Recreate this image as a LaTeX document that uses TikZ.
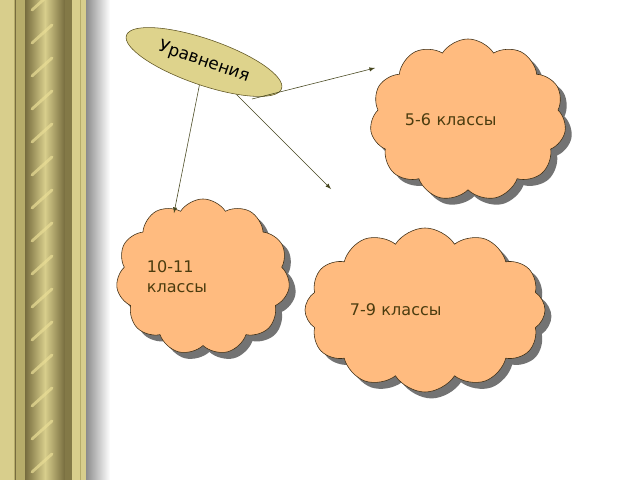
\documentclass[tikz,border=0pt]{standalone}
\usepackage{fontspec}
\setmainfont{DejaVu Sans}
\usetikzlibrary{shadows,arrows,shapes.symbols,shapes.geometric,calc}
\definecolor{oblfill}{RGB}{255,187,127}
\definecolor{obldraw}{RGB}{60,45,20}
\definecolor{ovalfill}{RGB}{222,211,140}
\definecolor{ovaldraw}{RGB}{95,85,35}
\definecolor{txtc}{RGB}{75,60,15}
\definecolor{linec}{RGB}{70,70,30}
\definecolor{goldL}{RGB}{216,206,140}
\definecolor{goldM}{RGB}{182,172,106}
\definecolor{goldD}{RGB}{118,108,62}
\definecolor{goldS}{RGB}{234,222,150}
\tikzstyle{oblako}=[cloud, cloud puffs=11, cloud puff arc=115, cloud ignores aspect,
  draw=obldraw, fill=oblfill, thin, text=txtc, align=left,
  font=\fontsize{11.4}{14}\selectfont,
  drop shadow={shadow xshift=0.16cm, shadow yshift=-0.16cm, fill=black!55, opacity=1}]
\tikzstyle{tema}=[ellipse, draw=ovaldraw, fill=ovalfill, thin, minimum width=4.1cm,
  minimum height=1.15cm, rotate=-19, font=\fontsize{12}{14}\selectfont]
\tikzstyle{strelka}=[-latex, draw=linec, thin]
\begin{document}
\begin{tikzpicture}[x=0.025cm, y=-0.025cm]
  \useasboundingbox (0,0) rectangle (640,480);
  \fill[white] (0,0) rectangle (640,480);
  % golden column on the left
  \fill[goldL] (0,0) rectangle (86,480);
  \fill[goldM] (14,0) rectangle (25,480);
  \draw[goldD, line width=0.6pt] (15,0) -- (15,480);
  \shade[left color=goldD, right color=goldD, middle color=goldL] (25,0) rectangle (65,480);
  \fill[goldD!80!goldM] (65,0) rectangle (72,480);
  \draw[goldM, line width=0.6pt] (80,0) -- (80,480);
  \foreach \y in {0,33,...,500}
    \draw[goldS, line width=2pt, line cap=round, opacity=0.7] (32,\y+10) -- (52,\y-8);
  \shade[left color=black!45, right color=white] (86,0) rectangle (110,480);

  % clouds
  \node (c56) [oblako, minimum width=4.9cm, minimum height=4.05cm, text width=3.15cm] at (468,120) {5-6 классы};
  \node (c1011) [oblako, minimum width=4.1cm, minimum height=3.9cm, text width=2.8cm] at (203,277) {10-11\\классы};
  \node (c79) [oblako, cloud puffs=12, minimum width=6cm, minimum height=4.1cm, text width=3.75cm] at (425,310) {7-9 классы};

  % theme
  \node (tema) [tema] at (204,62) {Уравнения};

  % arrows
  \coordinate (s1) at (252,99);
  \coordinate (k1) at (375,68);
  \coordinate (k2) at (174,213);
  \coordinate (k3) at (331,189);
  \draw [strelka] (s1) -- (k1);
  \draw [strelka] (tema) -- (k2);
  \draw [strelka] (tema) -- (k3);
\end{tikzpicture}
\end{document}
